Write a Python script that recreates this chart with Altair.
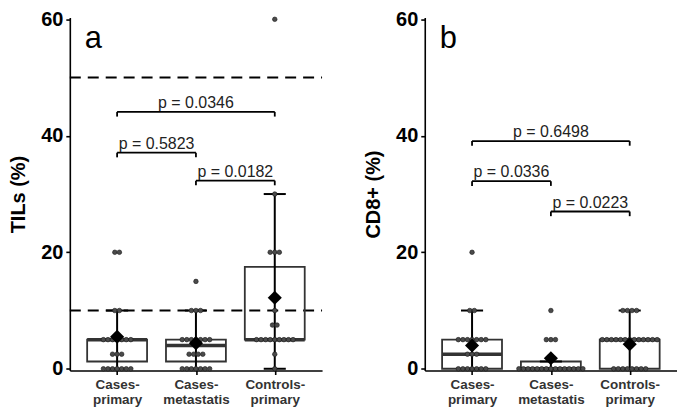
import altair as alt
import pandas as pd

FONT = "Arial, Liberation Sans, sans-serif"

categories = ["Cases-primary", "Cases-metastatis", "Controls-primary"]
cat_lines = [["Cases-", "primary"], ["Cases-", "metastatis"], ["Controls-", "primary"]]

# ---------- Panel a : TILs (%) ----------
a_title = "TILs (%)"
a_letter = "a"
a_q1 = [1.25, 1.25, 5.0]
a_median = [5.0, 4.0, 5.0]
a_q3 = [5.0, 5.0, 17.5]
a_whisk_lo = [0, 0, 0]
a_whisk_hi = [10, 10, 30]
a_mean = [5.5, 4.4, 12.2]
a_dot_values = [[0, 2.5, 5, 10, 20], [0, 2.5, 5, 10, 15], [0, 2.5, 5, 7.5, 10, 20, 30, 60]]
a_dot_counts = [[7, 3, 7, 2, 2], [7, 4, 7, 3, 1], [1, 1, 9, 2, 1, 3, 1, 1]]
a_pairs = [[1, 3], [1, 2], [2, 3]]
a_pvals = ["p = 0.0346", "p = 0.5823", "p = 0.0182"]
a_bracket_y = [44.1, 37.1, 32.3]
a_ref_lines = [50, 10]

# ---------- Panel b : CD8+ (%) ----------
b_title = "CD8+ (%)"
b_letter = "b"
b_q1 = [0.0, 0.0, 0.0]
b_median = [2.5, 0.0, 5.0]
b_q3 = [5.0, 1.25, 5.0]
b_whisk_lo = [0, 0, 0]
b_whisk_hi = [10, 1.25, 10]
b_mean = [4.0, 1.8, 4.2]
b_dot_values = [[0, 2.5, 5, 10, 20], [0, 5, 10], [0, 5, 10]]
b_dot_counts = [[7, 3, 7, 2, 1], [15, 3, 1], [8, 13, 4]]
b_pairs = [[1, 3], [1, 2], [2, 3]]
b_pvals = ["p = 0.6498", "p = 0.0336", "p = 0.0223"]
b_bracket_y = [39.1, 32.2, 27.0]
b_ref_lines = []

W = 253
H = 354
BOX_HALF = 0.38
CAP_HALF = 0.14
DOT_STEP = 0.058
TICK_DROP = 0.8

label_expr = ""
for i, lines in enumerate(cat_lines):
    arr = "[" + ",".join("'" + s + "'" for s in lines) + "]"
    label_expr += f"datum.value == {i + 1} ? {arr} : "
label_expr += "''"


def X(field):
    return alt.X(
        field,
        type="quantitative",
        scale=alt.Scale(domain=[0.4, 3.6], nice=False, zero=False),
        axis=alt.Axis(
            values=[1, 2, 3], labelExpr=label_expr, title=None, grid=False,
            labelFontSize=13.5, labelFontWeight="bold", labelColor="#333333",
            labelLineHeight=15, labelPadding=3, labelFont=FONT,
        ),
    )


def Y(field, title):
    return alt.Y(
        field,
        type="quantitative",
        scale=alt.Scale(domain=[-0.3, 60.3], nice=False, zero=False),
        axis=alt.Axis(values=[0, 20, 40, 60], title=title, grid=False,
                      labelPadding=3, titlePadding=12),
    )


def make_panel(title, letter, q1, med, q3, wlo, whi, mean, dvals, dcounts,
               pairs, pvals, by, refs):
    box = pd.DataFrame({
        "xl": [i + 1 - BOX_HALF for i in range(3)],
        "xr": [i + 1 + BOX_HALF for i in range(3)],
        "cl": [i + 1 - CAP_HALF for i in range(3)],
        "cr": [i + 1 + CAP_HALF for i in range(3)],
        "x": [i + 1 for i in range(3)],
        "q1": q1, "med": med, "q3": q3, "lo": wlo, "hi": whi, "mean": mean,
        "cat": categories,
    })
    dots = []
    for i in range(3):
        for v, n in zip(dvals[i], dcounts[i]):
            for j in range(n):
                dots.append({"x": i + 1 + (j - (n - 1) / 2) * DOT_STEP, "y": v})
    dots = pd.DataFrame(dots)

    br_h = pd.DataFrame({
        "x1": [p[0] for p in pairs], "x2": [p[1] for p in pairs],
        "y": by, "xm": [(p[0] + p[1]) / 2 for p in pairs], "label": pvals,
    })
    br_v = []
    for p, yy in zip(pairs, by):
        for xx in p:
            br_v.append({"x": xx, "y": yy, "y2": yy - TICK_DROP})
    br_v = pd.DataFrame(br_v)

    layers = []
    if refs:
        refdf = pd.DataFrame({"y": refs})
        layers.append(alt.Chart(refdf).mark_rule(color="black", strokeWidth=2, strokeDash=[11, 7]).encode(
            x=alt.value(0), x2=alt.value(W), y=Y("y:Q", title)))

    layers.append(alt.Chart(box).mark_rect(fill="white", fillOpacity=0, stroke="#333333", strokeWidth=1.8).encode(
        x=X("xl:Q"), x2="xr:Q", y=Y("q1:Q", title), y2="q3:Q"))
    layers.append(alt.Chart(box).mark_rule(color="#333333", strokeWidth=3.5).encode(
        x=X("xl:Q"), x2="xr:Q", y=Y("med:Q", title)))
    layers.append(alt.Chart(box).mark_rule(color="black", strokeWidth=2).encode(
        x=X("x:Q"), y=Y("lo:Q", title), y2="hi:Q"))
    layers.append(alt.Chart(box).mark_rule(color="black", strokeWidth=2).encode(
        x=X("cl:Q"), x2="cr:Q", y=Y("hi:Q", title)))
    layers.append(alt.Chart(box).mark_rule(color="black", strokeWidth=2).encode(
        x=X("cl:Q"), x2="cr:Q", y=Y("lo:Q", title)))
    layers.append(alt.Chart(dots).mark_circle(size=21, color="#4a4a4a", stroke="#1a1a1a",
                                              strokeWidth=0.6, opacity=1).encode(
        x=X("x:Q"), y=Y("y:Q", title)))
    layers.append(alt.Chart(box).mark_point(shape="diamond", filled=True, size=200, color="black", opacity=1).encode(
        x=X("x:Q"), y=Y("mean:Q", title)))
    layers.append(alt.Chart(br_h).mark_rule(color="black", strokeWidth=1.8).encode(
        x=X("x1:Q"), x2="x2:Q", y=Y("y:Q", title)))
    layers.append(alt.Chart(br_v).mark_rule(color="black", strokeWidth=1.8).encode(
        x=X("x:Q"), y=Y("y:Q", title), y2="y2:Q"))
    layers.append(alt.Chart(br_h).mark_text(font=FONT, fontSize=16, color="#222222", baseline="alphabetic", dy=-4).encode(
        x=X("xm:Q"), y=Y("y:Q", title), text="label:N"))
    letdf = pd.DataFrame({"x": [0.7], "y": [55.1], "t": [letter]})
    layers.append(alt.Chart(letdf).mark_text(font=FONT, fontSize=31, color="black", baseline="alphabetic").encode(
        x=X("x:Q"), y=Y("y:Q", title), text="t:N"))

    return alt.layer(*layers).properties(width=W, height=H)


pa = make_panel(a_title, a_letter, a_q1, a_median, a_q3, a_whisk_lo, a_whisk_hi, a_mean,
                a_dot_values, a_dot_counts, a_pairs, a_pvals, a_bracket_y, a_ref_lines)
pb = make_panel(b_title, b_letter, b_q1, b_median, b_q3, b_whisk_lo, b_whisk_hi, b_mean,
                b_dot_values, b_dot_counts, b_pairs, b_pvals, b_bracket_y, b_ref_lines)

chart = alt.hconcat(pa, pb, spacing=40, padding={"left": 0, "top": 0, "right": 0, "bottom": 0}).configure_view(
    stroke=None
).configure_axis(
    grid=False, domainColor="black", domainWidth=1.6, tickColor="black", tickWidth=1.6,
    tickSize=4, labelFont=FONT, labelFontSize=20, labelFontWeight="bold", labelColor="black",
    titleFont=FONT, titleFontSize=20, titleFontWeight="bold", titleColor="black",
)

chart.save("out.html", embed_options={"renderer": "svg", "actions": False})
